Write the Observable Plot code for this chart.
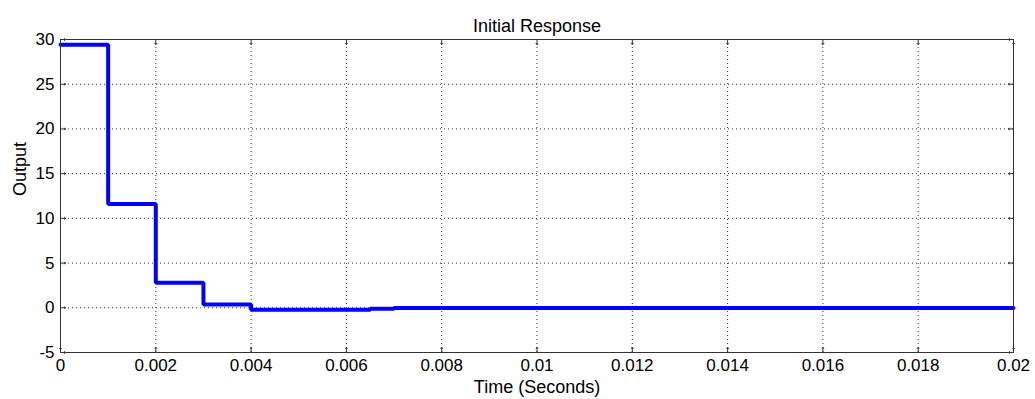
<!DOCTYPE html>
<html>
<head>
<meta charset="utf-8">
<script src="https://cdn.jsdelivr.net/npm/d3@7"></script>
<script src="https://cdn.jsdelivr.net/npm/@observablehq/plot@0.6"></script>
<style>
  html, body { margin: 0; padding: 0; background: #fff; }
  #chart svg { display: block; }
</style>
</head>
<body>
<div id="chart"></div>
<script>
// Data (discrete-time initial response, step-held)
const times   = [0, 0.001, 0.002, 0.003, 0.004, 0.0065, 0.007, 0.02];
const outputs = [29.4, 11.6, 2.8, 0.38, -0.22, -0.12, -0.03, -0.03];
const xTicks  = [0, 0.002, 0.004, 0.006, 0.008, 0.01, 0.012, 0.014, 0.016, 0.018, 0.02];
const yTicks  = [-5, 0, 5, 10, 15, 20, 25, 30];
const titleText = "Initial Response";
const xLabel = "Time (Seconds)";
const yLabel = "Output";

const data = times.map((t, i) => ({t, v: outputs[i]}));
const font = "'Liberation Sans', Arial, Helvetica, sans-serif";

const chart = Plot.plot({
  width: 1035,
  height: 399,
  marginLeft: 60,
  marginRight: 22,
  marginTop: 39,
  marginBottom: 47,
  style: {fontFamily: font, fontSize: "17px", background: "#fff", color: "#000"},
  x: {domain: [0, 0.02], ticks: xTicks, tickFormat: d => String(d), label: null},
  y: {domain: [-5, 30], ticks: yTicks, tickFormat: d => String(d), label: null},
  marks: [
    // dotted grid
    Plot.ruleX(xTicks.slice(1, -1), {x: d => d, stroke: "#333", strokeWidth: 1, strokeDasharray: "1,3"}),
    Plot.ruleY(yTicks.slice(1, -1), {y: d => d, stroke: "#333", strokeWidth: 1, strokeDasharray: "1,3"}),
    // inward ticks on all four sides
    Plot.vector(xTicks, {x: d => d, frameAnchor: "bottom", length: 5, rotate: 0, anchor: "start", stroke: "#333", strokeWidth: 1}),
    Plot.vector(xTicks, {x: d => d, frameAnchor: "top", length: 5, rotate: 180, anchor: "start", stroke: "#333", strokeWidth: 1}),
    Plot.vector(yTicks, {y: d => d, frameAnchor: "left", length: 5, rotate: 90, anchor: "start", stroke: "#333", strokeWidth: 1}),
    Plot.vector(yTicks, {y: d => d, frameAnchor: "right", length: 5, rotate: -90, anchor: "start", stroke: "#333", strokeWidth: 1}),
    Plot.axisX({ticks: xTicks, tickFormat: d => String(d), tickSize: 0, tickPadding: 6, label: null, fontSize: 17}),
    Plot.axisY({ticks: yTicks, tickFormat: d => String(d), tickSize: 0, tickPadding: 6, label: null, fontSize: 17}),
    // response line
    Plot.line(data, {x: "t", y: "v", curve: "step-after", stroke: "#0000ff", strokeWidth: 4, strokeLinejoin: "miter"}),
    Plot.frame({stroke: "#333", strokeWidth: 1}),
    // title and axis labels
    Plot.text([titleText], {text: d => d, frameAnchor: "top", dy: -20, fontSize: 18, fill: "#000"}),
    Plot.text([xLabel], {text: d => d, frameAnchor: "bottom", dy: 40, fontSize: 18, fill: "#000"}),
    Plot.text([yLabel], {text: d => d, frameAnchor: "left", dx: -40, rotate: -90, fontSize: 18, fill: "#000"})
  ]
});
document.getElementById("chart").appendChild(chart);
</script>
</body>
</html>
